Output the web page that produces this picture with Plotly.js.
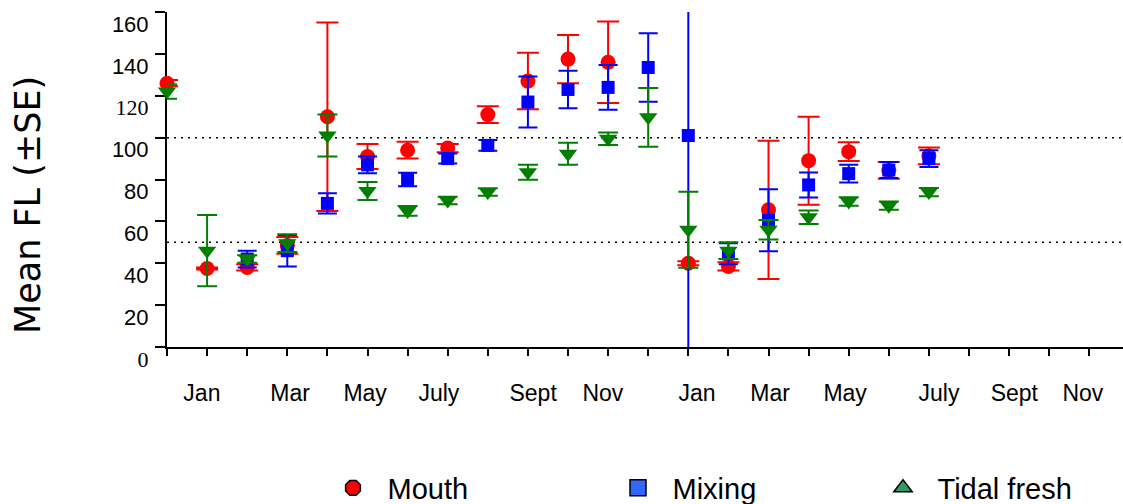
<!DOCTYPE html>
<html><head><meta charset="utf-8">
<script src="https://cdn.plot.ly/plotly-3.0.1.min.js"></script>
<style>html,body{margin:0;padding:0;background:#fff}#chart{width:1123px;height:504px}</style>
</head><body><div id="chart"></div>
<script>
// consecutive monthly samples (index 0 = first sample month)
const sampleIndex = [0,1,2,3,4,5,6,7,8,9,10,11,12,13,14,15,16,17,18,19];

const mouthMean = [126, 37.5, 38, 48.5, 110, 91, 94, 95, 111, 127, 137.5, 136, null, 40, 38.5, 65.5, 89, 93.3, 84.3, 91.3];
const mouthSE   = [1.5, 0.5, 1.5, 4, 45, 6, 4, 2, 4, 13.5, 11.5, 19.5, null, 1, 2, 33, 21, 4.5, 4, 4];

const mixingMean = [null, null, 42, 46, 68.6, 87, 80, 90, 96.3, 117, 123, 124, 133.5, 101, 44.5, 60.5, 77.4, 82.8, 84.5, 90];
const mixingSE   = [null, null, 4, 7.5, 4.8, 4, 3.2, 2.4, 2.6, 12.2, 9, 10.7, 16.4, 110, 5, 14.8, 6, 4.2, 3.8, 4];

const tidalMean = [122, 46, 42, 49.6, 101, 74.5, 65, 70, 74, 83.5, 92.3, 99.5, 109.7, 56, 46, 56, 62, 69.5, 67.5, 74];
const tidalSE   = [3.4, 17, 1.8, 4.2, 10, 4.3, 2.3, 1.8, 1.8, 3.6, 5.2, 3, 14, 18.2, 4, 4.7, 3.2, 2, 2, 2];

const monthLabels = ['Jan','Mar','May','July','Sept','Nov','Jan','Mar','May','July','Sept','Nov'];
const monthLabelPos = [0.87, 3.07, 4.94, 6.78, 9.13, 10.87, 13.22, 15.04, 16.91, 19.25, 21.13, 22.84];

const yTickValues = [0,20,40,60,80,100,120,140,160];
const yTickLabels = ['0','20','40','60','80','100','120','140','160'];
const serifLabels = ['0','120'];

const seriesNames = ['Mouth','Mixing','Tidal fresh'];
const yTitle = 'Mean FL (±SE)';

const SANS = 'Liberation Sans, Arial, sans-serif';
const SERIF = 'Liberation Serif, Times New Roman, serif';
const XR = [0, 23.84];

function dataTrace(y, se, color, symbol, size, capw, clip) {
  return {
    type: 'scatter', mode: 'markers', x: sampleIndex, y: y,
    marker: {symbol: symbol, size: size, color: color},
    error_y: {type: 'data', array: se, visible: true, color: color, thickness: 2, width: capw},
    showlegend: false, cliponaxis: clip, hoverinfo: 'skip'
  };
}
function legendTrace(name, color, symbol, leg) {
  return {
    type: 'scatter', mode: 'markers', x: [null], y: [null], xaxis: 'x2', name: '\u2002' + name,
    marker: {symbol: symbol, size: 16, color: color, line: {color: '#000', width: 1.5}},
    legend: leg, showlegend: true, hoverinfo: 'skip'
  };
}

const traces = [
  dataTrace(mouthMean, mouthSE, '#ff0000', 'circle', 15, 11, false),
  dataTrace(mixingMean, mixingSE, '#0000ff', 'square', 13, 9.5, true),
  dataTrace(tidalMean, tidalSE, '#007f00', 'triangle-down', 16, 10, false),
  legendTrace(seriesNames[0], '#ff0000', 'octagon', 'legend'),
  legendTrace(seriesNames[1], '#3366ff', 'square', 'legend2'),
  legendTrace(seriesNames[2], '#339966', 'triangle-up', 'legend3')
];

function legendAt(px) {
  return {x: px / 1123, xref: 'container', xanchor: 'left', y: 16 / 504, yref: 'container', yanchor: 'middle',
          orientation: 'h', font: {family: SANS, size: 29, color: '#000'}, bgcolor: 'rgba(0,0,0,0)', borderwidth: 0};
}

const layout = {
  width: 1123, height: 504,
  margin: {l: 167, r: 0, t: 12, b: 157, pad: 0},
  paper_bgcolor: '#fff', plot_bgcolor: '#fff',
  font: {family: SANS, color: '#000'},
  xaxis: {
    range: XR, tickmode: 'linear', tick0: 0, dtick: 1, showticklabels: false,
    ticks: 'outside', ticklen: 7, tickwidth: 2, tickcolor: '#000',
    showline: true, linecolor: '#000', linewidth: 2, showgrid: false, zeroline: false,
    layer: 'below traces', fixedrange: true
  },
  xaxis2: {
    overlaying: 'x', anchor: 'y', side: 'bottom', range: XR,
    tickmode: 'array', tickvals: monthLabelPos, ticktext: monthLabels,
    ticks: '', showline: false, showgrid: false, zeroline: false,
    tickfont: {family: SANS, size: 23, color: '#000'}, ticklabelstandoff: 30, fixedrange: true
  },
  yaxis: {
    range: [0, 160], tickmode: 'array', tickvals: yTickValues,
    ticktext: yTickLabels.map(t => serifLabels.includes(t) ? '<span style="font-family:' + SERIF + '">' + t + '</span>' : t),
    ticks: 'outside', ticklen: 10, tickwidth: 2, tickcolor: '#000',
    showline: true, linecolor: '#000', linewidth: 2, showgrid: false, zeroline: false,
    tickfont: {family: SANS, size: 22, color: '#000'}, ticklabelshift: 12, ticklabelstandoff: 2,
    layer: 'below traces', fixedrange: true, automargin: false
  },
  annotations: [{
    text: yTitle, textangle: -90, showarrow: false,
    xref: 'paper', x: (28 - 167) / 956, xanchor: 'center',
    yref: 'paper', y: (347 - 205) / 335, yanchor: 'middle',
    font: {family: 'DejaVu Sans, sans-serif', size: 35, color: '#000'}
  }],
  shapes: [50, 100].map(v => ({
    type: 'line', xref: 'paper', x0: 0, x1: 1, yref: 'y', y0: v, y1: v, layer: 'below',
    line: {color: '#000', width: 1.5, dash: '2px,5px'}
  })),
  legend: legendAt(333),
  legend2: legendAt(618),
  legend3: legendAt(883),
  showlegend: true
};

Plotly.newPlot('chart', traces, layout, {displayModeBar: false, staticPlot: true});
</script></body></html>
